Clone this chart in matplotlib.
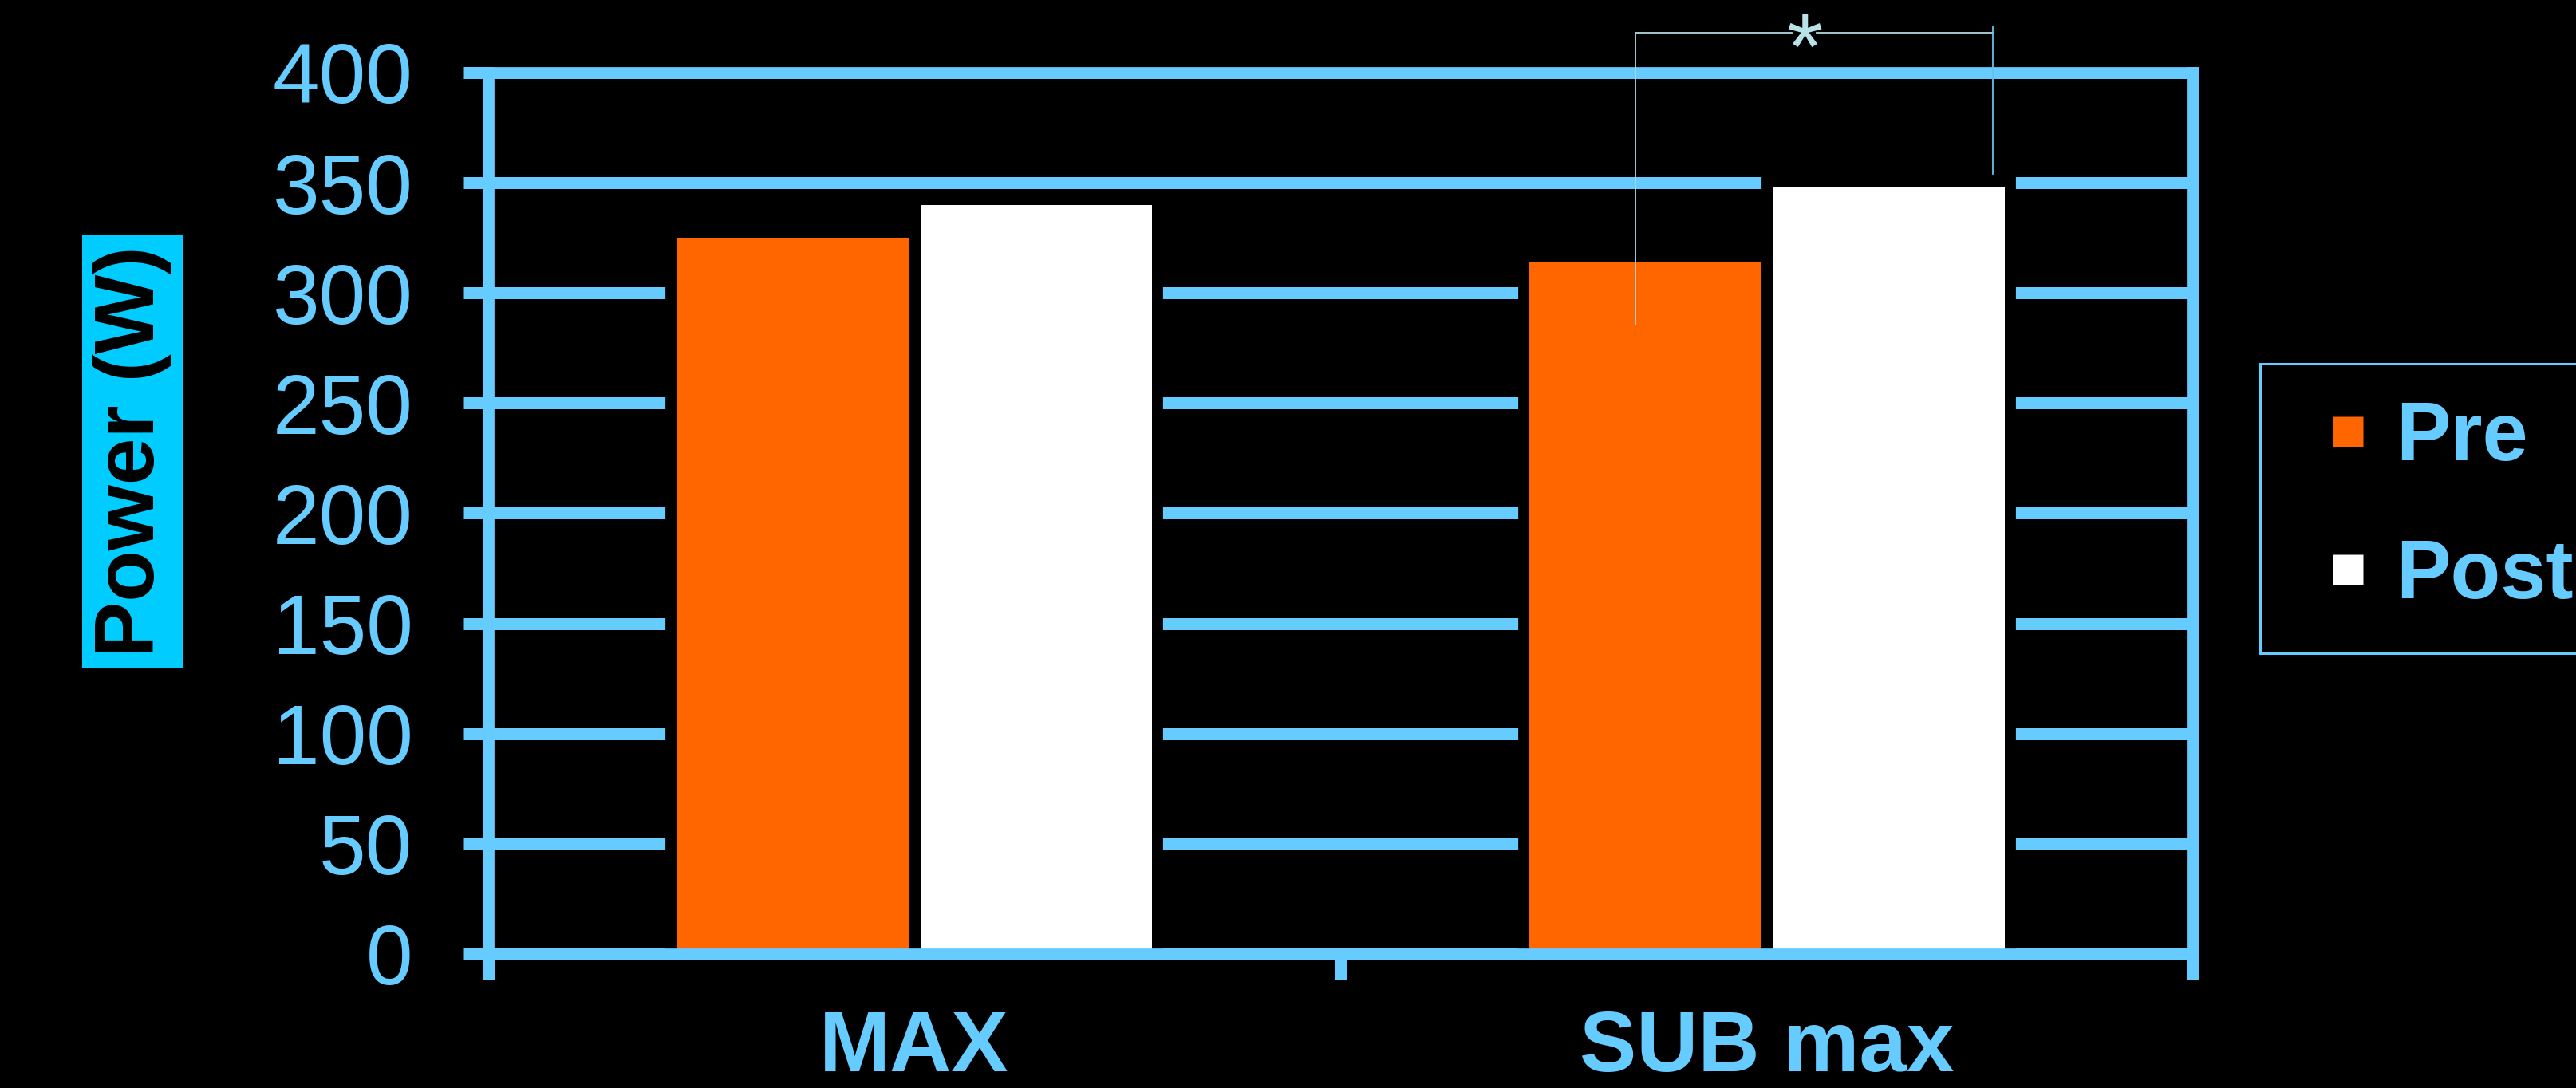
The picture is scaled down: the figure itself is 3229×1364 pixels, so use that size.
import numpy as np
import matplotlib.pyplot as plt
from matplotlib.lines import Line2D

# power output before / after training, in watts
categories = ['MAX', 'SUB max']
series = ['Pre', 'Post']
pre_power = [325, 314]
post_power = [340, 348]
y_ticks = [0, 50, 100, 150, 200, 250, 300, 350, 400]

blue = '#66CCFF'
bar_colors = ['#FF6600', '#FFFFFF']

plt.rcParams['font.family'] = ['Liberation Sans', 'DejaVu Sans']

fig = plt.figure(figsize=(32.29, 13.64), dpi=100, facecolor='black')
ax = fig.add_axes([0.1895, 0.1232, 0.6618, 0.8101])
ax.set_facecolor('black')

x = np.arange(len(categories))
w = 0.272
off = 0.143
for i, (vals, c) in enumerate(zip([pre_power, post_power], bar_colors)):
    pos = x + (2 * i - 1) * off
    # black halo so the gridlines stop short of each bar
    ax.bar(pos, vals, w, color='black', edgecolor='black', linewidth=20, zorder=2)
    ax.bar(pos, vals, w, color=c, linewidth=0, zorder=3)

ax.set_xlim(-0.5, 1.5)
ax.set_ylim(0, 400)
ax.set_yticks(y_ticks)
ax.yaxis.grid(True, color=blue, linewidth=10.8)
ax.set_axisbelow(True)
for s in ax.spines.values():
    s.set_color(blue)
    s.set_linewidth(10.6)
    s.set_zorder(6)

ax.tick_params(axis='y', colors=blue, labelcolor=blue, length=23, width=10.8,
               pad=45, labelsize=76)
ax.set_xticks(x)
ax.set_xticklabels(categories, fontweight='bold', fontsize=77, color=blue)
ax.set_xticks([-0.5, 0.5, 1.5], minor=True)
ax.tick_params(axis='x', which='major', length=0, pad=50)
ax.tick_params(axis='x', which='minor', length=23, width=10.8, color=blue)

# significance bracket over SUB max
bx0, bx1 = 0.846, 1.265
ax.plot([bx0, bx0, 1.029], [285.7, 418, 418], color='#B0D8DE', lw=1.3,
        clip_on=False, zorder=8)
ax.plot([1.058, bx1], [418, 418], color='#B0D8DE', lw=1.3, clip_on=False, zorder=8)
ax.plot([bx1, bx1], [421, 354], color='#66C2E8', lw=1.3, clip_on=False, zorder=8)
ax.text(1.044, 397, '*', ha='center', va='baseline', fontsize=84,
        color='#B8E2E8', clip_on=False, zorder=8)

handles = [Line2D([], [], marker='s', linestyle='none', markersize=28,
                  markerfacecolor=c, markeredgecolor='none') for c in bar_colors]
leg = ax.legend(handles, series, loc='upper left',
                bbox_to_anchor=(0.8774, 0.6657), bbox_transform=fig.transFigure,
                prop={'weight': 'bold', 'size': 74}, labelcolor=blue,
                frameon=True, fancybox=False, edgecolor=blue, facecolor='black',
                framealpha=1, borderpad=0.45, handlelength=1.24,
                handletextpad=-0.04, labelspacing=0.74, borderaxespad=0,
                numpoints=1)
leg.get_frame().set_linewidth(2.2)

fig.text(0.0514, 0.585, 'Power (W)', rotation=90, ha='center', va='center',
         fontsize=76, fontweight='bold', color='black',
         bbox=dict(boxstyle='square,pad=0.13', facecolor='#00CCFF', edgecolor='none'))

fig.savefig('out.png', dpi=100, facecolor='black')
